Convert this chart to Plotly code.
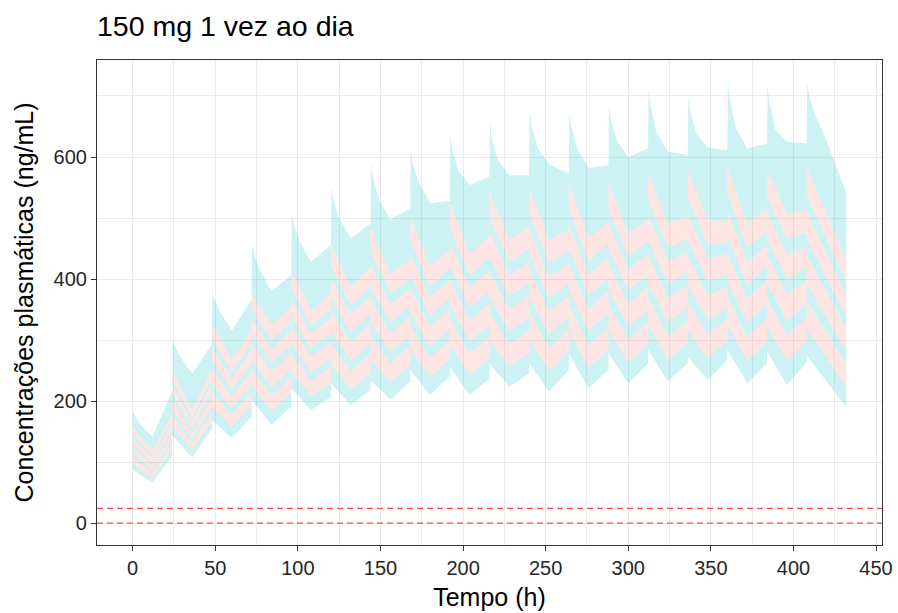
import plotly.graph_objects as go

# ---------------- data ----------------
dose_times = [0, 24, 48, 72, 96, 120, 144, 168, 192, 216, 240, 264, 288, 312, 336, 360, 384, 408]
trough_offset_h = 12
interval_h = 24
top_offsets_h = [0.3, 1.5, 5, 12, 24]

# quantile boundaries (ng/mL): value at dose time, at mid-interval trough, at end of interval
q0_start  = [87, 144, 169, 202, 221, 229, 234, 251, 256, 262, 262, 278, 278, 284, 273, 284, 281, 275]
q0_trough = [66, 107, 140, 161, 185, 193, 202, 210, 210, 223, 215, 221, 229, 232, 234, 229, 226, 232]
q0_end    = [110, 155, 174, 191, 207, 218, 232, 240, 237, 245, 251, 251, 262, 262, 267, 262, 264, 190]

q1_start  = [97, 159, 191, 227, 248, 261, 269, 286, 294, 301, 303, 317, 317, 325, 316, 326, 323, 318]
q1_trough = [73, 118, 158, 184, 208, 220, 231, 239, 243, 257, 250, 255, 263, 268, 271, 266, 266, 271]
q1_end    = [120, 168, 194, 214, 231, 246, 260, 269, 270, 279, 283, 285, 295, 296, 299, 298, 299, 224]

q2_start  = [107, 175, 215, 253, 277, 295, 306, 324, 334, 344, 346, 359, 359, 368, 362, 371, 367, 365]
q2_trough = [81, 130, 177, 209, 233, 249, 262, 271, 277, 293, 287, 292, 300, 307, 310, 305, 308, 312]
q2_end    = [130, 183, 215, 239, 256, 277, 290, 300, 304, 315, 317, 322, 330, 332, 333, 336, 336, 260]

q3_start  = [114, 185, 229, 269, 295, 315, 329, 346, 358, 369, 372, 384, 384, 394, 389, 398, 394, 392]
q3_trough = [86, 137, 188, 223, 247, 267, 281, 290, 298, 315, 310, 315, 322, 330, 334, 329, 333, 337]
q3_end    = [137, 192, 228, 253, 272, 295, 308, 319, 325, 337, 338, 343, 351, 353, 353, 359, 359, 282]

q4_start  = [124, 201, 253, 295, 324, 349, 366, 384, 398, 411, 415, 426, 426, 437, 435, 443, 439, 439]
q4_trough = [94, 148, 207, 248, 272, 296, 312, 321, 333, 351, 347, 351, 359, 369, 373, 368, 376, 378]
q4_end    = [147, 206, 249, 278, 297, 325, 338, 350, 360, 373, 372, 380, 387, 389, 387, 397, 396, 318]

q5_start  = [130, 210, 267, 311, 341, 370, 388, 407, 422, 436, 441, 451, 451, 463, 463, 470, 466, 467]
q5_trough = [98, 155, 219, 263, 287, 313, 330, 340, 354, 372, 369, 374, 382, 393, 397, 391, 401, 403]
q5_end    = [153, 215, 262, 293, 312, 343, 355, 369, 381, 394, 393, 402, 408, 411, 408, 420, 418, 339]

q6_start  = [140, 225, 289, 335, 368, 402, 423, 442, 460, 476, 482, 490, 490, 504, 506, 512, 508, 510]
q6_trough = [106, 166, 237, 286, 310, 340, 359, 370, 386, 406, 404, 408, 416, 429, 434, 428, 440, 441]
q6_end    = [163, 228, 282, 316, 336, 372, 383, 398, 413, 428, 425, 436, 441, 444, 440, 455, 453, 373]

q7_start  = [147, 235, 303, 351, 386, 422, 446, 464, 484, 501, 508, 515, 515, 530, 533, 539, 534, 538]
q7_trough = [110, 173, 248, 300, 324, 358, 378, 389, 407, 428, 427, 430, 438, 452, 458, 452, 466, 466]
q7_end    = [170, 237, 295, 330, 352, 390, 401, 417, 434, 450, 446, 458, 462, 466, 460, 478, 476, 395]

q8_start  = [157, 251, 327, 377, 415, 456, 483, 502, 524, 543, 551, 557, 557, 573, 579, 584, 579, 584]
q8_trough = [118, 185, 267, 325, 349, 387, 409, 420, 442, 464, 464, 467, 475, 491, 497, 491, 508, 507]
q8_end    = [180, 251, 316, 355, 377, 420, 431, 448, 469, 486, 480, 494, 497, 502, 494, 516, 513, 431]

# upper envelope: spike after dose, early drop, shoulder, trough, end of interval
top_spike    = [182, 300, 380, 455, 508, 549, 590, 614, 639, 658, 677, 674, 688, 712, 699, 723, 715, 721]
top_drop     = [175, 290, 365, 440, 490, 530, 565, 590, 612, 630, 650, 650, 660, 685, 675, 695, 690, 700]
top_shoulder = [160, 272, 345, 415, 462, 500, 530, 560, 578, 595, 615, 615, 628, 640, 640, 648, 645, 670]
top_trough   = [141, 245, 316, 380, 428, 467, 497, 524, 554, 570, 588, 582, 600, 609, 616, 614, 625, 628]
top_end      = [218, 293, 366, 406, 456, 491, 516, 528, 568, 570, 573, 587, 614, 603, 611, 622, 622, 541]

ref_lines = [0, 24]

x_ticks = [0, 50, 100, 150, 200, 250, 300, 350, 400, 450]
y_ticks = [0, 200, 400, 600]

# ---------------- build paths ----------------
def boundary(start, trough, end):
    xs, ys = [], []
    for k, t0 in enumerate(dose_times):
        xs += [t0, t0 + trough_offset_h, t0 + interval_h]
        ys += [start[k], trough[k], end[k]]
    return xs, ys

def top_boundary():
    xs, ys = [], []
    for k, t0 in enumerate(dose_times):
        vals = [top_spike[k], top_drop[k], top_shoulder[k], top_trough[k], top_end[k]]
        for off, v in zip(top_offsets_h, vals):
            xs.append(t0 + off)
            ys.append(v)
    return [0] + xs, [top_spike[0]] + ys

bounds = [
    boundary(q0_start, q0_trough, q0_end),
    boundary(q1_start, q1_trough, q1_end),
    boundary(q2_start, q2_trough, q2_end),
    boundary(q3_start, q3_trough, q3_end),
    boundary(q4_start, q4_trough, q4_end),
    boundary(q5_start, q5_trough, q5_end),
    boundary(q6_start, q6_trough, q6_end),
    boundary(q7_start, q7_trough, q7_end),
    boundary(q8_start, q8_trough, q8_end),
    top_boundary(),
]

CYAN = "rgba(0,191,196,0.2)"
PINK = "rgba(248,118,109,0.2)"

fig = go.Figure()
for i in range(9):
    lo_x, lo_y = bounds[i]
    hi_x, hi_y = bounds[i + 1]
    fig.add_trace(go.Scatter(
        x=hi_x + lo_x[::-1], y=hi_y + lo_y[::-1],
        mode="lines", fill="toself",
        fillcolor=CYAN if i % 2 == 0 else PINK,
        line=dict(width=0), hoverinfo="skip", showlegend=False,
    ))

for v in ref_lines:
    fig.add_shape(type="line", xref="paper", x0=0, x1=1, yref="y", y0=v, y1=v,
                  line=dict(color="#FF4A4A", width=1.3, dash="6px,4px"))

FONT = "Liberation Sans, Arial, Helvetica, sans-serif"
axis_common = dict(
    showgrid=True, gridcolor="#EBEBEB", gridwidth=1.1, automargin=False,
    zeroline=False, showline=True, mirror=True, linecolor="#333333", linewidth=1.2,
    ticks="outside", ticklen=5, tickwidth=1.2, tickcolor="#333333",
    tickfont=dict(family=FONT, size=20, color="#262626"),
)

fig.update_layout(
    width=898, height=613,
    margin=dict(l=97, r=16, t=60, b=68),
    paper_bgcolor="white", plot_bgcolor="white",
    title=dict(text="150 mg 1 vez ao dia", x=97 / 898, xanchor="left",
               y=1 - 26 / 613, yanchor="middle", xref="container", yref="container",
               font=dict(family=FONT, size=28.5, color="black")),
    xaxis=dict(range=[-21.6, 453.6], tickvals=x_ticks,
               minor=dict(dtick=25, tick0=0, showgrid=True, gridcolor="#EBEBEB", gridwidth=0.55),
               title=dict(text="Tempo (h)", font=dict(family=FONT, size=25, color="black"), standoff=10),
               **axis_common),
    yaxis=dict(range=[-36, 759], tickvals=y_ticks,
               minor=dict(dtick=100, tick0=0, showgrid=True, gridcolor="#EBEBEB", gridwidth=0.55),
               title=dict(text="Concentrações plasmáticas (ng/mL)", font=dict(family=FONT, size=25, color="black"), standoff=12),
               **axis_common),
)

fig.write_html("out.html")
